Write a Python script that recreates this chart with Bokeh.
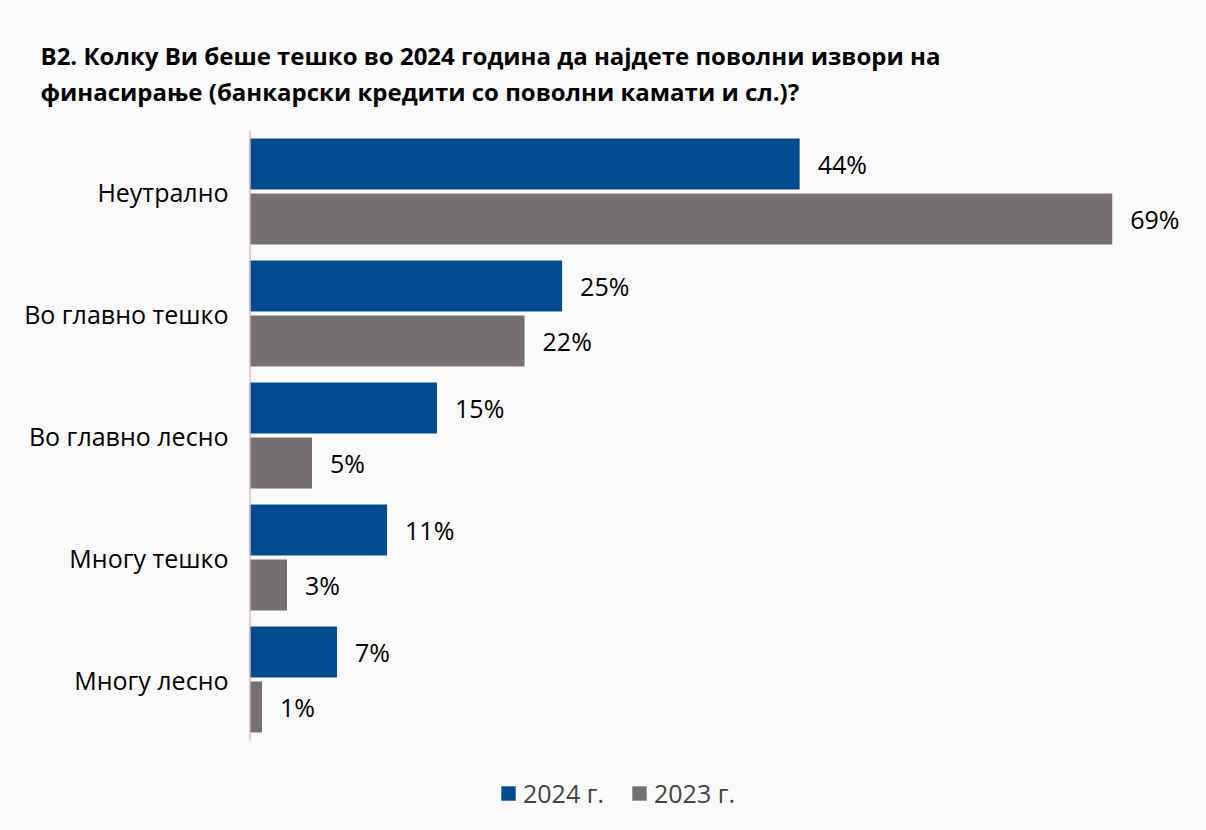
from bokeh.plotting import figure
from bokeh.models import ColumnDataSource, Range1d, Legend, LegendItem, Title, FixedTicker
from bokeh.transform import dodge
from bokeh.core.properties import value
from bokeh.embed import file_html
from bokeh.resources import INLINE

categories = ["Неутрално", "Во главно тешко", "Во главно лесно", "Многу тешко", "Многу лесно"]
values_2024 = [44, 25, 15, 11, 7]
values_2023 = [69, 22, 5, 3, 1]
series_names = ["2024 г.", "2023 г."]
title_lines = ["B2. Колку Ви беше тешко во 2024 година да најдете поволни извори на",
               "финасирање (банкарски кредити со поволни камати и сл.)?"]

BLUE = "#004C8F"
GRAY = "#767171"
BG = "#FAFAFA"
FONT = "Open Sans"

W, H = 1206, 830
LEFT, TOP, RIGHT = 249, 130, 13
BAND = 122.0                      # pixels per category band
n = len(categories)
pos = [i + 0.5 for i in range(n)]
extra = (H - TOP - n * BAND) / BAND   # room below the bars for the legend

src = ColumnDataSource(dict(
    y=pos,
    v24=values_2024,
    v23=values_2023,
    l24=[f"{v}%" for v in values_2024],
    l23=[f"{v}%" for v in values_2023],
))

p = figure(width=W, height=H, output_backend="svg", toolbar_location=None, title=None,
           y_range=Range1d(n + extra, 0), x_range=Range1d(0, 75.5),
           min_border_left=LEFT, min_border_top=TOP, min_border_bottom=0,
           min_border_right=RIGHT, background_fill_color=BG, border_fill_color=BG,
           outline_line_color=None)

r24 = p.hbar(y=dodge("y", -0.225), right="v24", left=0, height=0.418,
             source=src, fill_color=BLUE, line_color=None)
r23 = p.hbar(y=dodge("y", 0.225), right="v23", left=0, height=0.418,
             source=src, fill_color=GRAY, line_color=None)

p.text(x="v24", y=dodge("y", -0.225), text="l24", source=src,
       x_offset=18, text_baseline="middle", text_font=value(FONT),
       text_font_size="25px", text_color="#000000")
p.text(x="v23", y=dodge("y", 0.225), text="l23", source=src,
       x_offset=18, text_baseline="middle", text_font=value(FONT),
       text_font_size="25px", text_color="#000000")

# category axis line (only along the bars)
p.segment(x0=[0], y0=[0], x1=[0], y1=[n], line_color="#DDB0C8", line_width=2.5)

p.xaxis.visible = False
p.xgrid.visible = False
p.ygrid.visible = False
ax = p.yaxis[0]
ax.ticker = FixedTicker(ticks=pos)
ax.major_label_overrides = {t: c for t, c in zip(pos, categories)}
ax.axis_line_color = None
ax.major_tick_line_color = None
ax.minor_tick_line_color = None
ax.major_tick_out = 0
ax.major_label_standoff = 21
ax.major_label_text_font = FONT
ax.major_label_text_font_size = "25px"
ax.major_label_text_color = "#000000"

p.add_layout(Title(text="\n".join(title_lines), align="left", offset=40 - LEFT, standoff=45,
                   text_font=FONT, text_font_style="bold", text_font_size="24px",
                   text_line_height=1.1, text_color="#000000"), "above")

legend = Legend(items=[LegendItem(label=series_names[0], renderers=[r24]),
                       LegendItem(label=series_names[1], renderers=[r23])],
                orientation="horizontal", location=(250, 20),
                glyph_width=18, glyph_height=18, label_text_font=FONT,
                label_text_font_size="25px", label_standoff=6, spacing=26,
                padding=0, margin=0, border_line_color=None,
                background_fill_alpha=0)
p.add_layout(legend, "center")

open("out.html", "w").write(file_html(p, INLINE))
